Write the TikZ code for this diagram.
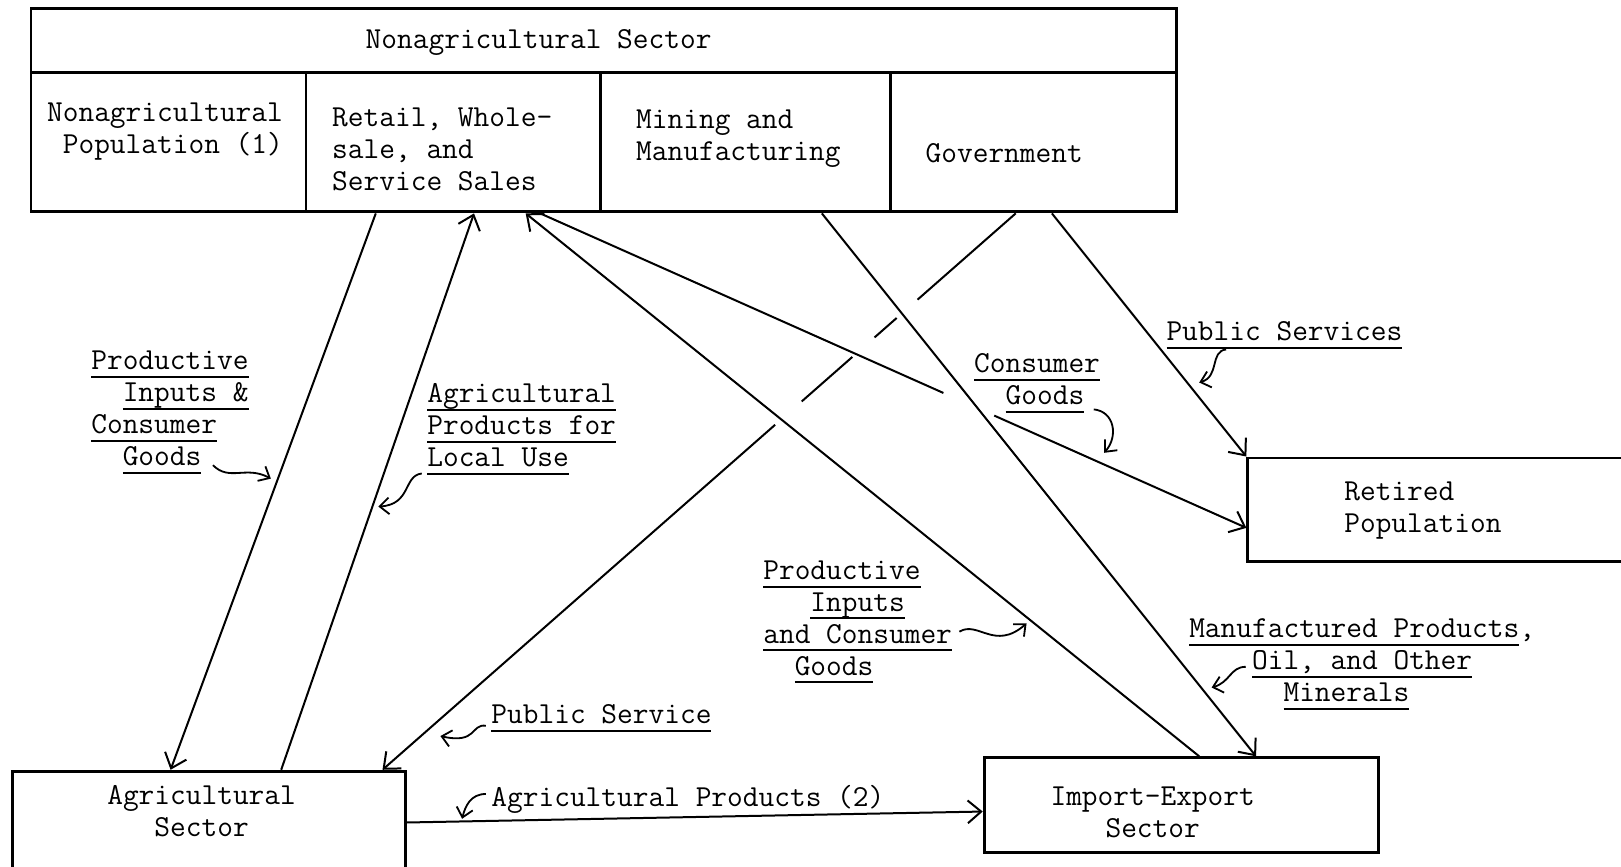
\documentclass[tikz,border=0pt]{standalone}
\usepackage{tikz}
\usetikzlibrary{arrows.meta,calc,fit}
\newcommand\tw{\ttfamily\fontsize{16.8pt}{17.6pt}\selectfont}
\newcommand\typeul[1]{\setbox0=\hbox{#1}\rlap{\rule[-4.5pt]{\wd0}{1.1pt}}\box0}
\tikzset{
  sector/.style={draw,line width=1.6pt,inner sep=0pt},
  txt/.style={font=\tw,inner sep=0pt,align=left,anchor=north west},
  flow/.style={line width=1.1pt,-{Straight Barb[length=2.6mm,width=4.4mm]}},
  bare/.style={line width=1.1pt},
  hook/.style={line width=1pt,-{Straight Barb[length=1.8mm,width=3.2mm]}},
}

\begin{document}
\begin{tikzpicture}[x=0.2mm,y=-0.2mm]
  \useasboundingbox (0,0) rectangle (1568,838);
  \clip (0,0) rectangle (1568,838);

  % sectors
  \node[sector,fit={(30,8) (1138,70)}] (nonag) {};
  \node[sector,fit={(30,70) (296,205)}] (pop) {};
  \node[sector,fit={(296,70) (581,205)}] (retail) {};
  \node[sector,fit={(581,70) (861,205)}] (mining) {};
  \node[sector,fit={(861,70) (1138,205)}] (gov) {};
  \node[sector,fit={(1207,443) (1640,543)}] (retired) {};
  \node[sector,fit={(12,746) (392,900)}] (agri) {};
  \node[sector,fit={(952,733) (1333,825)}] (impexp) {};

  \node[txt,anchor=north] (nonagtxt) at (521,28) {Nonagricultural Sector};
  \node[txt,align=right,anchor=north east] (poptxt) at (274,99) {Nonagricultural\\Population (1)};
  \node[txt] (retailtxt) at (321,104) {Retail, Whole-\\sale, and\\Service Sales};
  \node[txt] (miningtxt) at (615,106) {Mining and\\Manufacturing};
  \node[txt] (govtxt) at (895,138) {Government};
  \node[txt] (rettxt) at (1300,466) {Retired\\Population};
  \node[txt,align=center,anchor=north] (agritxt) at (195,759) {Agricultural\\Sector};
  \node[txt,align=center,anchor=north] (imptxt) at (1115,761) {Import-Export\\Sector};

  % flows
  \draw[flow] ($(retail.south)+(-75,0)$) -- ($(agri.north)+(-37,0)$);
  \draw[flow] ($(agri.north)+(70,0)$) -- ($(retail.south)+(20,0)$);
  \draw[flow] ($(impexp.north)+(17.5,0)$) -- ($(retail.south)+(70,0)$);
  \coordinate (cg0) at ($(retail.south)+(84,0)$);
  \coordinate (cg1) at ($(retired.north west)+(0,69)$);
  \draw[bare] (cg0) -- ($(cg0)!0.571!(cg1)$);
  \draw[flow] ($(cg0)!0.643!(cg1)$) -- (cg1);
  \draw[flow] ($(mining.south)+(74,0)$) -- ($(impexp.north)+(72.5,0)$);
  \draw[flow] ($(gov.south)+(18,0)$) -- (retired.north west);
  % public service line is broken where it passes the other flows
  \coordinate (ps0) at ($(gov.south)+(-17,0)$);
  \coordinate (ps1) at ($(agri.north)+(168,0)$);
  \foreach \a/\b in {0/0.155,0.188/0.223,0.258/0.338}
    \draw[bare] ($(ps0)!\a!(ps1)$) -- ($(ps0)!\b!(ps1)$);
  \draw[flow] ($(ps0)!0.38!(ps1)$) -- (ps1);
  \draw[flow] ($(agri.north east)+(0,51)$) -- ($(impexp.west)+(0,6)$);

  % flow labels
  \node[txt] (pictxt) at (88,339) {\typeul{Productive}\\\hphantom{xx}\typeul{Inputs \&}\\\typeul{Consumer}\\\hphantom{xx}\typeul{Goods}};
  \node[txt] (apltxt) at (413,371) {\typeul{Agricultural}\\\typeul{Products for}\\\typeul{Local Use}};
  \node[txt] (pubtxt) at (1128,311) {\typeul{Public Services}};
  \node[txt] (cgtxt) at (942,342) {\typeul{Consumer}\\\hphantom{xx}\typeul{Goods}};
  \node[txt] (picetxt) at (738,542) {\typeul{Productive}\\\hphantom{xxx}\typeul{Inputs}\\\typeul{and Consumer}\\\hphantom{xx}\typeul{Goods}};
  \node[txt] (mfgtxt) at (1150,598) {\typeul{Manufactured Products},\\\hphantom{xxxx}\typeul{Oil, and Other}\\\hphantom{xxxxxx}\typeul{Minerals}};
  \node[txt] (pstxt) at (475,681) {\typeul{Public Service}};
  \node[txt] (ap2txt) at (475,759) {Agricultural Products (2)};

  % pointers from labels to their flows
  \draw[hook] (206,450) .. controls (222,466) and (238,450) .. (262,463);
  \draw[hook] (408,458) .. controls (390,460) and (398,488) .. (366,490);
  \draw[hook] (1186,338) .. controls (1170,340) and (1180,364) .. (1160,370);
  \draw[hook] (1058,396) .. controls (1078,398) and (1082,422) .. (1068,438);
  \draw[hook] (928,611) .. controls (946,600) and (962,630) .. (993,603);
  \draw[hook] (1205,645) .. controls (1190,645) and (1190,660) .. (1172,665);
  \draw[hook] (470,702) .. controls (455,700) and (462,720) .. (426,712);
  \draw[hook] (470,768) .. controls (455,768) and (450,780) .. (447,792);
\end{tikzpicture}
\end{document}
